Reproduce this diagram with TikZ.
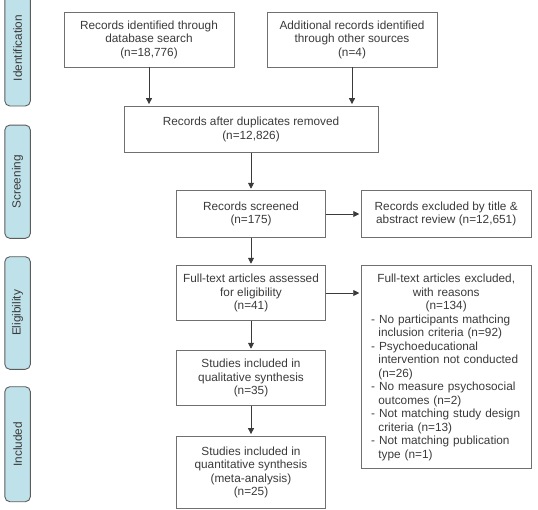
\documentclass[tikz,border=0pt]{standalone}
\usepackage{fontspec}
\setmainfont{Liberation Sans}
\usetikzlibrary{arrows.meta}

\definecolor{boxgray}{HTML}{707070}
\definecolor{txtgray}{HTML}{3A3A3A}
\definecolor{stageblue}{HTML}{BFE1EA}
\definecolor{stagegray}{HTML}{5C5C5C}

\newcommand{\flowfont}{\fontsize{11.8}{13.5}\selectfont}
\newcommand{\reason}[1]{\par\hangindent=7.2pt\hangafter=1\noindent -~#1}

\begin{document}
\begin{tikzpicture}[x=1pt, y=-1pt, >={Triangle[length=6pt,width=6pt]},
      box/.style={draw=boxgray, line width=0.9pt, font=\flowfont, text=txtgray,
                  align=center, inner sep=0pt},
      stage/.style={draw=stagegray, fill=stageblue, rounded corners=5pt, line width=0.9pt,
                    font=\flowfont, text=txtgray, rotate=90, inner sep=0pt,
                    minimum height=25.5pt},
      arr/.style={->, line width=0.9pt, draw=txtgray, fill=txtgray, shorten >=1.5pt}]

    \useasboundingbox (0,0) rectangle (538,509);
    \clip (0,0) rectangle (538,509);

    \def\mx{251}    % main column
    \def\rx{446.2}  % exclusion column

    % Stage bars on the left
    \node[stage, minimum width=116pt]   (ident) at (17.6, 48)    {Identification};
    \node[stage, minimum width=113.3pt] (scr)   at (17.6, 181.7) {Screening};
    \node[stage, minimum width=112.6pt] (elig)  at (17.6, 313)   {Eligibility};
    \node[stage, minimum width=115pt]   (incl)  at (17.6, 444.2) {Included};

    % Identification
    \node[box, minimum width=170pt, minimum height=55pt] (dbsearch) at (149, 39.5)
         {Records identified through\\database search\\(n=18,776)};
    \node[box, minimum width=170pt, minimum height=55pt] (othersrc) at (352, 39.5)
         {Additional records identified\\through other sources\\(n=4)};
    \node[box, minimum width=254pt, minimum height=46.5pt] (dupl) at (\mx, 129.3)
         {Records after duplicates removed\\(n=12,826)};

    % Screening
    \node[box, minimum width=149pt, minimum height=46.6pt] (screened) at (\mx, 214)
         {Records screened\\(n=175)};
    \node[box, minimum width=170pt, minimum height=46.6pt] (exclTA) at (\rx, 214)
         {Records excluded by title \&\\abstract review (n=12,651)};

    % Eligibility
    \node[box, minimum width=149pt, minimum height=54.6pt] (fulltext) at (\mx, 293)
         {Full-text articles assessed\\for eligibility\\(n=41)};
    \node[draw=boxgray, line width=0.9pt, font=\flowfont, text=txtgray,
          text width=150pt, inner xsep=10pt, inner ysep=0pt,
          minimum height=203pt] (ftexcl) at (\rx, 367.2)
         {\parindent=0pt
          {\centering Full-text articles excluded,\par with reasons\par (n=134)\par}
          \raggedright
          \reason{No participants mathcing\newline inclusion criteria (n=92)}
          \reason{Psychoeducational\newline intervention not conducted\newline (n=26)}
          \reason{No measure psychosocial\newline outcomes (n=2)}
          \reason{Not matching study design\newline criteria (n=13)}
          \reason{Not matching publication\newline type (n=1)}\par};

    % Included
    \node[box, minimum width=149pt, minimum height=54.6pt] (qual) at (\mx, 378)
         {Studies included in\\qualitative synthesis\\(n=35)};
    \node[box, minimum width=149pt, minimum height=72.3pt] (quant) at (\mx, 472.2)
         {Studies included in\\quantitative synthesis\\(meta-analysis)\\(n=25)};

    % Arrows
    \draw[arr] (dbsearch) -- (dbsearch |- dupl.north);
    \draw[arr] (othersrc) -- (othersrc |- dupl.north);
    \draw[arr] (dupl) -- (screened);
    \draw[arr] (screened) -- (exclTA);
    \draw[arr] (screened) -- (fulltext);
    \draw[arr] (fulltext.east) -- (fulltext.east -| ftexcl.west);
    \draw[arr] (fulltext) -- (qual);
    \draw[arr] (qual) -- (quant);

\end{tikzpicture}
\end{document}
